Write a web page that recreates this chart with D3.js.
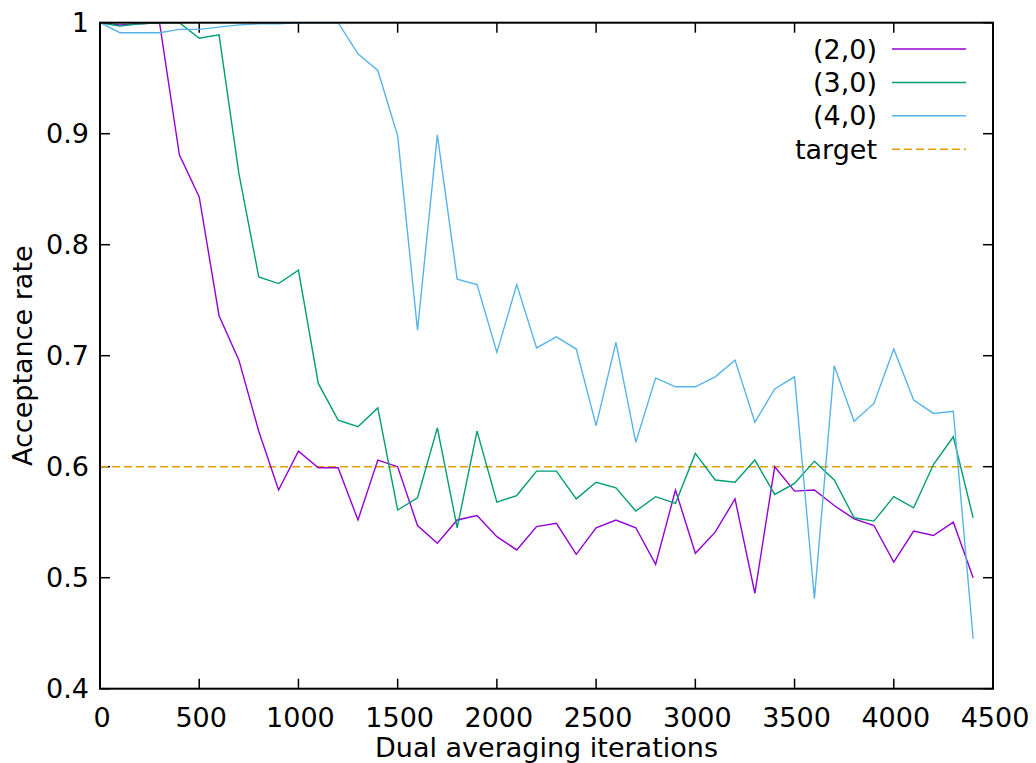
<!DOCTYPE html>
<html><head><meta charset="utf-8">
<script src="https://cdn.jsdelivr.net/npm/d3@7"></script>
<style>body{margin:0;background:#fff}svg{display:block}text{font-family:"DejaVu Sans",sans-serif}</style>
</head><body>
<svg id="c" width="1036" height="763"></svg>
<script>
const iterations = d3.range(0, 4401, 100);
const s20 = [1.0,0.998,0.999,1.0,0.881,0.843,0.736,0.696,0.632,0.579,0.614,0.599,0.599,0.552,0.606,0.600,0.547,0.531,0.552,0.556,0.537,0.525,0.546,0.549,0.521,0.545,0.552,0.545,0.512,0.579,0.522,0.541,0.571,0.486,0.600,0.578,0.579,0.565,0.553,0.547,0.514,0.542,0.538,0.550,0.500];
const s30 = [1.0,0.997,0.999,1.0,1.0,0.986,0.989,0.864,0.771,0.765,0.777,0.675,0.642,0.636,0.653,0.561,0.572,0.635,0.545,0.632,0.568,0.574,0.596,0.596,0.571,0.586,0.581,0.560,0.573,0.567,0.612,0.588,0.586,0.606,0.575,0.585,0.605,0.588,0.554,0.551,0.573,0.563,0.602,0.627,0.554];
const s40 = [1.0,0.991,0.991,0.991,0.994,0.994,0.996,0.998,0.999,0.999,1.0,1.0,1.0,0.972,0.957,0.898,0.723,0.899,0.769,0.764,0.703,0.764,0.707,0.717,0.706,0.637,0.712,0.622,0.680,0.672,0.672,0.681,0.696,0.640,0.670,0.681,0.481,0.691,0.641,0.657,0.706,0.660,0.648,0.650,0.445];
const target = 0.6;
const seriesNames = ["(2,0)","(3,0)","(4,0)","target"];
const seriesColors = ["#9400d3","#009e73","#56b4e9","#e69f00"];
const xTicks = [0,500,1000,1500,2000,2500,3000,3500,4000,4500];
const yTicks = [0.4,0.5,0.6,0.7,0.8,0.9,1];
const yTickLabels = ["0.4","0.5","0.6","0.7","0.8","0.9","1"];

const svg = d3.select("#c");
const L=100, R=993, T=22.7, B=688.7;
const x = d3.scaleLinear().domain([0,4500]).range([L,R]);
const y = d3.scaleLinear().domain([0.4,1]).range([B,T]);
const fs = 27;

// ticks (mirrored, inward)
const tk = 10;
const g = svg.append("g").attr("stroke","#000").attr("stroke-width",1.5);
xTicks.forEach(v=>{
  g.append("line").attr("x1",x(v)).attr("x2",x(v)).attr("y1",B).attr("y2",B-tk);
  g.append("line").attr("x1",x(v)).attr("x2",x(v)).attr("y1",T).attr("y2",T+tk);
});
yTicks.forEach(v=>{
  g.append("line").attr("x1",L).attr("x2",L+tk).attr("y1",y(v)).attr("y2",y(v));
  g.append("line").attr("x1",R).attr("x2",R-tk).attr("y1",y(v)).attr("y2",y(v));
});
xTicks.forEach(v=>{
  svg.append("text").attr("x",x(v)+2).attr("y",B+38).attr("text-anchor","middle").attr("font-size",fs).text(v);
});
yTicks.forEach((v,i)=>{
  svg.append("text").attr("x",L-11).attr("y",y(v)+9.5).attr("text-anchor","end").attr("font-size",fs).text(yTickLabels[i]);
});

// target line
svg.append("line").attr("x1",x(0)).attr("x2",x(4400)).attr("y1",y(target)).attr("y2",y(target))
  .attr("stroke",seriesColors[3]).attr("stroke-width",1.5).attr("stroke-dasharray","8,4");

const line = d3.line().x((d,i)=>x(iterations[i])).y(d=>y(d));
[s20,s30,s40].forEach((s,i)=>{
  svg.append("path").attr("d",line(s)).attr("fill","none").attr("stroke",seriesColors[i]).attr("stroke-width",1.4);
});

// border
svg.append("rect").attr("x",L).attr("y",T).attr("width",R-L).attr("height",B-T)
  .attr("fill","none").attr("stroke","#000").attr("stroke-width",2);

// legend
seriesNames.forEach((n,i)=>{
  const yy = 49 + i*33.4;
  svg.append("text").attr("x",877).attr("y",yy+9.5).attr("text-anchor","end").attr("font-size",fs).text(n);
  svg.append("line").attr("x1",892).attr("x2",966).attr("y1",yy).attr("y2",yy)
    .attr("stroke",seriesColors[i]).attr("stroke-width",1.5).attr("stroke-dasharray", i===3?"8,4":null);
});

// axis titles
svg.append("text").attr("x",(L+R)/2).attr("y",757).attr("text-anchor","middle").attr("font-size",fs).text("Dual averaging iterations");
svg.append("text").attr("transform",`translate(32,${(T+B)/2}) rotate(-90)`).attr("text-anchor","middle").attr("font-size",fs).text("Acceptance rate");
</script>
</body></html>
